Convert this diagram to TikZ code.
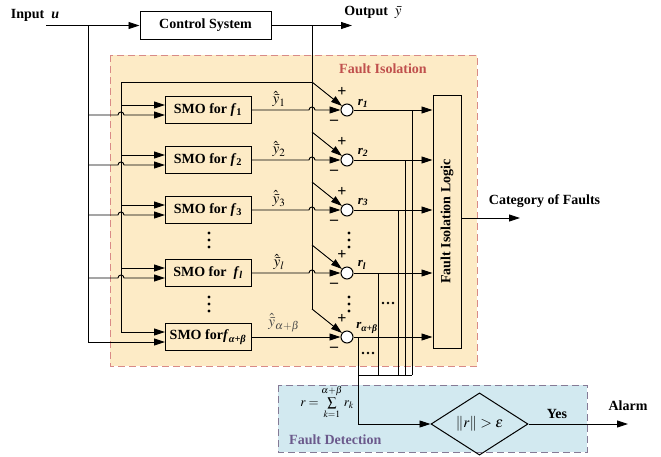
\documentclass[tikz,border=0pt]{standalone}
\usepackage{mathptmx}
\usepackage[no-math]{fontspec}
\setmainfont{Liberation Serif}
\usetikzlibrary{arrows.meta,shapes.geometric}
\definecolor{isofill}{HTML}{FDEBC6}
\definecolor{isoline}{HTML}{D98A86}
\definecolor{isotext}{HTML}{C0504D}
\definecolor{detfill}{HTML}{D2E9F0}
\definecolor{detline}{HTML}{857A96}
\definecolor{dettext}{HTML}{6B5A8C}
\begin{document}
\begin{tikzpicture}[x=1pt,y=-1pt,
  font=\fontsize{14}{16}\selectfont\bfseries,
  ln/.style={line width=0.9pt},
  arr/.style={ln,-{Triangle[length=11pt,width=7pt]}},
  smobox/.style={draw,line width=1pt,minimum width=86pt,minimum height=27pt,inner sep=0pt},
  sumc/.style={circle,draw,line width=1pt,fill=white,minimum size=12pt,inner sep=0pt},
  lbl/.style={inner sep=0pt},
  pm/.style={inner sep=0pt,font=\fontsize{16}{16}\selectfont\bfseries},
  rl/.style={inner sep=0pt,font=\fontsize{13}{13}\selectfont\bfseries\itshape},
  hl/.style={inner sep=0pt,font=\fontsize{15}{15}\selectfont},
]
\useasboundingbox (0,0) rectangle (661,456);

% regions
\draw[fill=isofill,draw=isoline,dash pattern=on 7pt off 4pt,line width=1pt] (110,55) rectangle (477,366);
\node[lbl,text=isotext] (fiT) at (383,69) {Fault Isolation};
\draw[fill=detfill,draw=detline,dash pattern=on 7pt off 4pt,line width=1pt] (278,385) rectangle (587,452);
\node[lbl,text=dettext,anchor=west] (fdT) at (289,440) {Fault Detection};

% top
\node[lbl] (inT) at (35,15) {Input\ \ \textit{u}};
\coordinate (in0) at (46,25.5);
\node[draw,line width=1pt,minimum width=131pt,minimum height=28pt,inner sep=0pt] (cs) at (205.5,25.5) {Control System};
\coordinate (out0) at (352,25.5);
\node[lbl] (outT) at (373,12) {Output\ \ {\fontsize{15}{15}\selectfont$\bar{y}$}};
\draw[arr] (in0) -- (cs.west);
\draw[arr] (cs.east) -- (out0);

% SMO boxes
\node[smobox] (m1) at (208,110) {SMO for \textit{f}\textsubscript{1}};
\node[smobox] (m2) at (208,160) {SMO for \textit{f}\textsubscript{2}};
\node[smobox] (m3) at (208,210) {SMO for \textit{f}\textsubscript{3}};
\node[smobox] (m4) at (208,273) {SMO for\ \ \textit{f}\textsubscript{\textit{l}}};
\node[smobox] (m5) at (208,337) {SMO for\textit{f}\textsubscript{\textit{α+β}}};

% logic box
\node[draw,line width=1pt,minimum width=28pt,minimum height=253pt,inner sep=0pt] (FL) at (447,221.5) {\rotatebox{90}{Fault Isolation Logic}};

% junction coordinates
\coordinate (ju) at (88,25.5);
\coordinate (jy) at (312,25.5);
\coordinate (jyt) at (312,82);
\coordinate (jyl) at (121,82);

\foreach \n/\yy in {1/110,2/160,3/210,4/273,5/337}{
  \coordinate (mu\n) at (165,\yy-5);
  \coordinate (ml\n) at (165,\yy+5);
  \coordinate (vu\n) at (121,\yy-5);
  \coordinate (bu\n) at (88,\yy+5);
  \coordinate (d\n) at (312,\yy-28);
  \node[sumc] (s\n) at (347,\yy) {};
  \node[pm] (p\n) at (342,\yy-18) {+};
  \node[pm] (q\n) at (334,\yy+12) {–};
}

% vertical feeds
\draw[ln] (ju) -- (bu5);
\draw[arr] (bu5) -- (ml5);
\draw[ln] (jy) -- (d5);
\draw[arr] (jyt) -- (jyl) -- (vu5) -- (mu5);
\draw[arr] (m5.east) -- (s5.west);

\foreach \n/\yy in {1/110,2/160,3/210,4/273}{
  \draw[arr] (vu\n) -- (mu\n);
  \draw[arr] (bu\n) -- (118,\yy+5) .. controls (118,\yy+1) and (124,\yy+1) .. (124,\yy+5) -- (ml\n);
  \draw[arr] (m\n.east) -- (309,\yy) .. controls (309,\yy-4) and (315,\yy-4) .. (315,\yy) -- (s\n.west);
}
\foreach \n in {1,...,5}{
  \draw[arr] (d\n) -- (s\n);
  \draw[arr] (s\n.east) -- (s\n.east -| FL.west);
}

% y-hat labels
\node[hl] (h1) at (279,99) {$\hat{\bar{y}}_1$};
\node[hl] (h2) at (279,149) {$\hat{\bar{y}}_2$};
\node[hl] (h3) at (279,199) {$\hat{\bar{y}}_3$};
\node[hl] (h4) at (279,262) {$\hat{\bar{y}}_l$};
\node[hl,text=black!70] (h5) at (284,323) {$\hat{\bar{y}}_{\alpha+\beta}$};

% r labels
\node[rl] (r1) at (363,103) {r\textsubscript{1}};
\node[rl] (r2) at (363,152) {r\textsubscript{2}};
\node[rl] (r3) at (363,202) {r\textsubscript{3}};
\node[rl] (r4) at (362,265) {r\textsubscript{l}};
\node[rl] (r5) at (367,328) {r\textsubscript{α+β}};

% taps
\coordinate (t1) at (412,110);
\coordinate (t2) at (405,160);
\coordinate (t3) at (398,210);
\coordinate (t4) at (378,273);
\coordinate (t5) at (358,337);
\coordinate (b1) at (412,375);
\coordinate (b2) at (405,375);
\coordinate (b3) at (398,375);
\coordinate (b4) at (378,375);
\coordinate (b5) at (358,375);
\coordinate (b6) at (358,424);
\draw[ln] (t1) -- (b1);
\draw[ln] (t2) -- (b2);
\draw[ln] (t3) -- (b3);
\draw[ln] (t4) -- (b4);
\draw[ln] (b5) -- (b1);

% detection
\node[diamond,draw,line width=1pt,minimum width=97pt,minimum height=35pt,inner sep=0pt,font=\fontsize{15}{16}\selectfont] (dia) at (479.5,424) {$\|r\| > \varepsilon$};
\draw[arr] (t5) -- (b6) -- (dia.west);
\coordinate (al) at (628,424);
\draw[arr] (dia.east) -- (al);
\node[lbl] (yes) at (557,414) {Yes};
\node[lbl] (alT) at (628,406) {Alarm};
\node[lbl,font=\fontsize{13}{14}\selectfont] (sumF) at (327,402) {$r=\sum\limits_{k=1}^{\alpha+\beta} r_k$};

% category
\coordinate (cat0) at (461,218);
\coordinate (cat1) at (520,218);
\draw[arr] (cat0) -- (cat1);
\node[lbl] (catT) at (544.5,201) {Category of Faults};

% dots
\foreach \yy in {233,240,247,297,304,311}{
  \fill (209,\yy) circle[radius=1.7pt];
  \fill (349,\yy) circle[radius=1.7pt];
}
\foreach \xx in {383,388,393}{
  \fill (\xx,303) circle[radius=1.4pt];
}
\foreach \xx in {363,368,373}{
  \fill (\xx,353) circle[radius=1.4pt];
}
\end{tikzpicture}
\end{document}
